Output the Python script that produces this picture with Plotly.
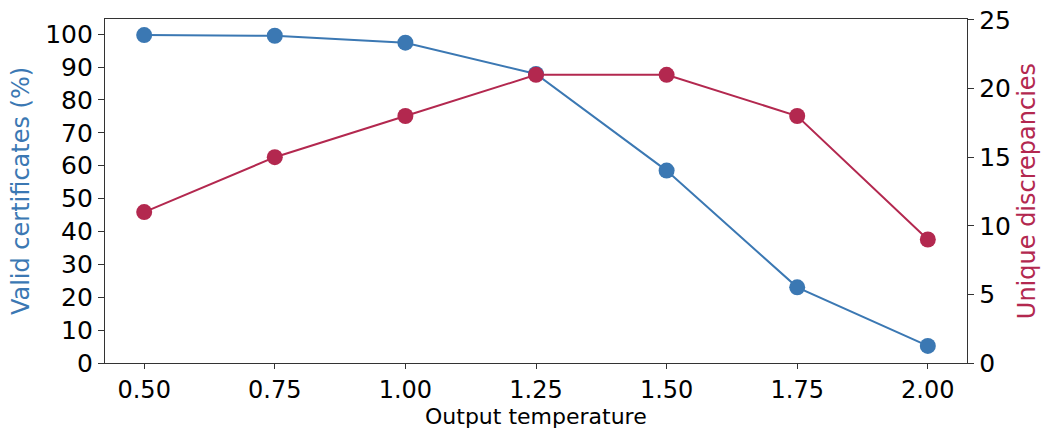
import plotly.graph_objects as go

temperature = [0.50, 0.75, 1.00, 1.25, 1.50, 1.75, 2.00]
valid_certificates = [99.7, 99.5, 97.4, 87.9, 58.5, 23.0, 5.2]
unique_discrepancies = [11, 15, 18, 21, 21, 18, 9]
x_tick_labels = ["0.50", "0.75", "1.00", "1.25", "1.50", "1.75", "2.00"]

BLUE = "#3b78b3"
RED = "#b3284f"
FONT = "DejaVu Sans"

fig = go.Figure()
fig.add_trace(go.Scatter(
    x=temperature, y=valid_certificates, mode="lines+markers",
    line=dict(color=BLUE, width=2), marker=dict(color=BLUE, size=16),
    yaxis="y", showlegend=False))
fig.add_trace(go.Scatter(
    x=temperature, y=unique_discrepancies, mode="lines+markers",
    line=dict(color=RED, width=2), marker=dict(color=RED, size=16),
    yaxis="y2", showlegend=False))

axis_common = dict(showgrid=False, zeroline=False, ticks="outside", ticklen=6,
                   tickwidth=1.3, tickcolor="#333", linecolor="#333", linewidth=1.3,
                   showline=True, automargin=False,
                   tickfont=dict(family=FONT, size=25, color="#000"))

x_axis_style = dict(axis_common, ticklen=5,
                    tickfont=dict(family=FONT, size=24, color="#000"))

fig.update_layout(
    width=1045, height=430,
    margin=dict(l=105, r=78, t=19, b=67),
    plot_bgcolor="white", paper_bgcolor="white",
    font=dict(family=FONT),
    xaxis=dict(range=[0.425, 2.075], tickvals=temperature, ticktext=x_tick_labels,
               mirror=True, **x_axis_style),
    yaxis=dict(range=[0, 104.6], tickvals=list(range(0, 101, 10)),
               title=dict(text="Valid certificates (%)", font=dict(family=FONT, size=24, color=BLUE),
                          standoff=8),
               **axis_common),
    yaxis2=dict(range=[0, 25.07], tickvals=list(range(0, 26, 5)), overlaying="y", side="right",
                title=dict(text="Unique discrepancies", font=dict(family=FONT, size=24, color=RED),
                           standoff=8),
                **axis_common),
    annotations=[dict(text="Output temperature", xref="paper", yref="paper",
                      x=0.5, y=-0.195, xanchor="center", yanchor="bottom",
                      showarrow=False, borderpad=0,
                      font=dict(family=FONT, size=22, color="#000"))],
)

fig.write_html("out.html")
